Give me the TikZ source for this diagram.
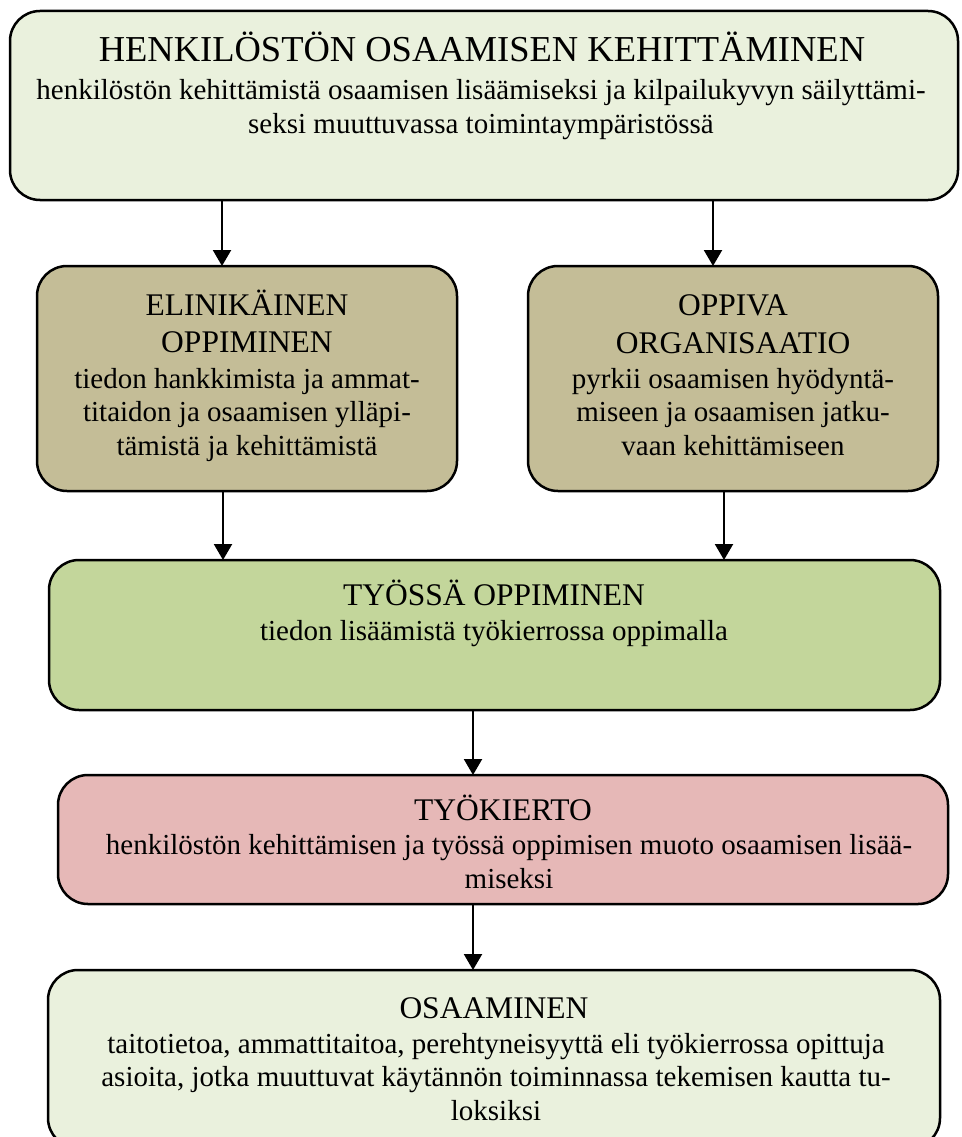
\documentclass[tikz,border=0pt]{standalone}
\usepackage{fontspec}
\setmainfont{Liberation Serif}
\usetikzlibrary{arrows.meta}
\definecolor{palegreen}{HTML}{EAF1DD}
\definecolor{tanfill}{HTML}{C4BD97}
\definecolor{midgreen}{HTML}{C3D69B}
\definecolor{rosefill}{HTML}{E6B8B7}
\begin{document}
\begin{tikzpicture}[x=1pt,y=-1pt,
  box/.style={draw=black, line width=2.5pt, rounded corners=30pt, inner sep=0pt, outer sep=0pt, rectangle},
  ttl/.style={anchor=base, align=center, inner sep=0pt, font=\fontsize{31.5}{37.5}\selectfont},
  bigttl/.style={anchor=base, align=center, inner sep=0pt, font=\fontsize{36.5}{40}\selectfont},
  txt/.style={anchor=base, align=center, inner sep=0pt, font=\fontsize{29}{33.5}\selectfont},
  arr/.style={line width=2.2pt, -{Triangle[width=18pt,length=16pt]}}]
\useasboundingbox (0,0) rectangle (961,1137);
\clip (0,0) rectangle (961,1137);

% boxes
\node[box, fill=palegreen, minimum width=948pt, minimum height=189pt] (b1) at (484,105.5) {};
\node[box, fill=tanfill, minimum width=420pt, minimum height=225pt] (b2) at (247,378.5) {};
\node[box, fill=tanfill, minimum width=410pt, minimum height=225pt] (b3) at (733,378.5) {};
\node[box, fill=midgreen, minimum width=891pt, minimum height=150pt] (b4) at (494.5,635) {};
\node[box, fill=rosefill, minimum width=890pt, minimum height=129pt] (b5) at (503,839.5) {};
\node[box, fill=palegreen, minimum width=892pt, minimum height=178pt] (b6) at (494,1059) {};

% texts (base anchor = baseline of the last line)
\node[bigttl] (t1) at (482,62) {HENKILÖSTÖN OSAAMISEN KEHITTÄMINEN};
\node[txt] (d1) at (481,133) {henkilöstön kehittämistä osaamisen lisäämiseksi ja kilpailukyvyn säilyttämi-\\seksi muuttuvassa toimintaympäristössä};

\node[ttl] (t2) at (247,352.5) {ELINIKÄINEN\\OPPIMINEN};
\node[txt] (d2) at (247,455) {tiedon hankkimista ja ammat-\\titaidon ja osaamisen ylläpi-\\tämistä ja kehittämistä};

\node[ttl] (t3) at (733,353) {OPPIVA\\ORGANISAATIO};
\node[txt] (d3) at (733,455) {pyrkii osaamisen hyödyntä-\\miseen ja osaamisen jatku-\\vaan kehittämiseen};

\node[ttl] (t4) at (494,605) {TYÖSSÄ OPPIMINEN};
\node[txt] (d4) at (494,640) {tiedon lisäämistä työkierrossa oppimalla};

\node[ttl] (t5) at (503,820) {TYÖKIERTO};
\node[txt] (d5) at (509,888) {henkilöstön kehittämisen ja työssä oppimisen muoto osaamisen lisää-\\miseksi};

\node[ttl] (t6) at (494,1018) {OSAAMINEN};
\node[txt] (d6) at (496,1120) {taitotietoa, ammattitaitoa, perehtyneisyyttä eli työkierrossa opittuja\\asioita, jotka muuttuvat käytännön toiminnassa tekemisen kautta tu-\\loksiksi};

% connectors
\draw[arr] (222,0 |- b1.south) -- (222,0 |- b2.north);
\draw[arr] (713,0 |- b1.south) -- (713,0 |- b3.north);
\draw[arr] (223,0 |- b2.south) -- (223,0 |- b4.north);
\draw[arr] (724,0 |- b3.south) -- (724,0 |- b4.north);
\draw[arr] (473,0 |- b4.south) -- (473,0 |- b5.north);
\draw[arr] (473,0 |- b5.south) -- (473,0 |- b6.north);
\end{tikzpicture}
\end{document}
